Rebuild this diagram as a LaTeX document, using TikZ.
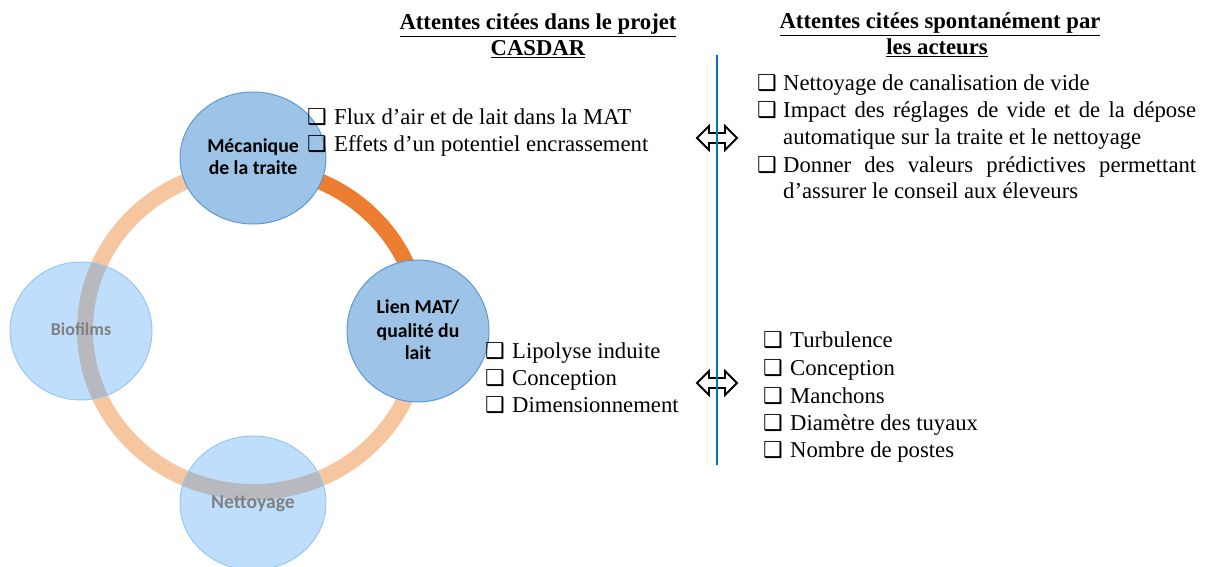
\documentclass[tikz,border=0pt]{standalone}
\usepackage{fontspec}
\setmainfont{Liberation Serif}
\newfontfamily\calib{Carlito}
\newfontfamily\djv{DejaVu Sans}
\newcommand{\cbox}{{\djv\fontsize{22}{22}\selectfont ❑}}
\definecolor{ringC}{RGB}{245,198,160}
\definecolor{arcC}{RGB}{237,125,49}
\definecolor{darkB}{RGB}{157,195,230}
\definecolor{darkBd}{RGB}{91,155,213}
\definecolor{lightB}{RGB}{69,161,246}
\definecolor{lightBd}{RGB}{150,200,245}
\definecolor{lineB}{RGB}{0,112,192}
\definecolor{greyT}{RGB}{128,128,128}
\begin{document}
\begin{tikzpicture}[x=1pt,y=-1pt,
  lst/.style={anchor=base west, inner sep=0pt, font=\fontsize{22.7}{27}\selectfont},
  cbx/.style={anchor=base west, inner sep=0pt},
  hdr/.style={anchor=base, inner sep=0pt, font=\bfseries\fontsize{22.7}{27}\selectfont},
  clab/.style={anchor=base, inner sep=0pt, font=\calib\bfseries\fontsize{19.7}{22.5}\selectfont},
  dcirc/.style={fill=darkB, draw=darkBd, line width=1pt},
  lcirc/.style={fill=lightB, fill opacity=0.35, draw=lightBd, line width=1pt},
  dblarrow/.style={draw=black, line width=1.8pt, line join=miter}]
\useasboundingbox (0,0) rectangle (1208,567);
% ring
\draw[ringC, line width=16pt] (253,330) ellipse [x radius=168pt, y radius=162pt];
\draw[arcC, line width=16pt] (253,168) arc [start angle=90, end angle=0, x radius=168pt, y radius=162pt];
% circles
\filldraw[dcirc] (253,158) ellipse [x radius=73pt, y radius=66pt];
\filldraw[dcirc] (418,331) ellipse [x radius=71pt, y radius=71pt];
\filldraw[lcirc] (81,331) ellipse [x radius=71pt, y radius=69pt];
\filldraw[lcirc] (253,503) ellipse [x radius=73pt, y radius=67pt];
% circle labels
\node[clab] (mec1) at (253,153) {Mécanique};
\node[clab] (mec2) at (253,175) {de la traite};
\node[clab] (lien1) at (418,313) {Lien MAT/};
\node[clab] (lien2) at (418,337) {qualité du};
\node[clab] (lien3) at (418,359) {lait};
\node[clab, text=greyT, font=\calib\bfseries\fontsize{18}{20}\selectfont] (bio) at (81,335) {Biofilms};
\node[clab, text=greyT] (net) at (253,508) {Nettoyage};
% headers
\node[hdr] (h1a) at (538,30) {\underline{Attentes citées dans le projet}};
\node[hdr] (h1b) at (538,56) {\underline{CASDAR}};
\node[hdr] (h2a) at (940,29) {\underline{Attentes citées spontanément par}};
\node[hdr] (h2b) at (937,55) {\underline{les acteurs}};
% double arrows
\begin{scope}[shift={(717,138)}]
\draw[dblarrow] (-20,0) -- (-8,-12) -- (-8,-5) -- (8,-5) -- (8,-12) -- (20,0) -- (8,12) -- (8,5) -- (-8,5) -- (-8,12) -- cycle;
\end{scope}
\begin{scope}[shift={(717,383)}]
\draw[dblarrow] (-20,0) -- (-8,-12) -- (-8,-5) -- (8,-5) -- (8,-12) -- (20,0) -- (8,12) -- (8,5) -- (-8,5) -- (-8,12) -- cycle;
\end{scope}
% vertical line
\coordinate (vtop) at (717,55);
\coordinate (vbot) at (717,465);
\draw[lineB, line width=2.5pt] (vtop) -- (vbot);
% left top list
\node[cbx] (a1c) at (307,125) {\cbox};
\node[lst] (a1) at (334,125) {Flux d’air et de lait dans la MAT};
\node[cbx] (a2c) at (307,152) {\cbox};
\node[lst] (a2) at (334,152) {Effets d’un potentiel encrassement};
% left middle list
\node[cbx] (b1c) at (485,358) {\cbox};
\node[lst] (b1) at (512,358) {Lipolyse induite};
\node[cbx] (b2c) at (485,385) {\cbox};
\node[lst] (b2) at (512,385) {Conception};
\node[cbx] (b3c) at (485,412) {\cbox};
\node[lst] (b3) at (512,412) {Dimensionnement};
% right top list
\node[cbx] (r1c) at (757,91) {\cbox};
\node[lst] (r1) at (783,91) {Nettoyage de canalisation de vide};
\node[cbx] (r2c) at (757,118) {\cbox};
\node[lst] (r2) at (783,118) {\makebox[413pt][s]{Impact des réglages de vide et de la dépose}};
\node[lst] (r2b) at (783,145) {automatique sur la traite et le nettoyage};
\node[cbx] (r3c) at (757,172) {\cbox};
\node[lst] (r3) at (783,172) {\makebox[413pt][s]{Donner des valeurs prédictives permettant}};
\node[lst] (r3b) at (783,199) {d’assurer le conseil aux éleveurs};
% right bottom list
\node[cbx] (s1c) at (763,347) {\cbox};
\node[lst] (s1) at (790,347) {Turbulence};
\node[cbx] (s2c) at (763,375) {\cbox};
\node[lst] (s2) at (790,375) {Conception};
\node[cbx] (s3c) at (763,403) {\cbox};
\node[lst] (s3) at (790,403) {Manchons};
\node[cbx] (s4c) at (763,430) {\cbox};
\node[lst] (s4) at (790,430) {Diamètre des tuyaux};
\node[cbx] (s5c) at (763,457) {\cbox};
\node[lst] (s5) at (790,457) {Nombre de postes};
\end{tikzpicture}
\end{document}
